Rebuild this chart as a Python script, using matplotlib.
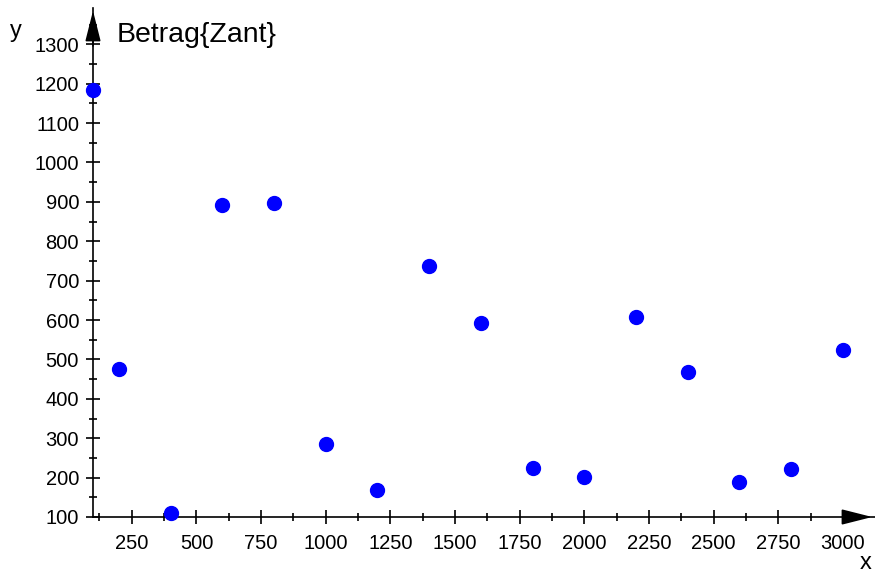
import matplotlib.pyplot as plt
from matplotlib.ticker import MultipleLocator

plt.rcParams['font.family'] = ['Liberation Sans', 'DejaVu Sans']

# data
x_vals = [100, 200, 400, 600, 800, 1000, 1200, 1400, 1600, 1800,
          2000, 2200, 2400, 2600, 2800, 3000]
y_vals = [1184, 476, 111, 893, 897, 286, 168, 737, 592, 224,
          201, 608, 467, 188, 222, 523]
x_ticks = [250, 500, 750, 1000, 1250, 1500, 1750, 2000, 2250, 2500, 2750, 3000]
y_ticks = [100, 200, 300, 400, 500, 600, 700, 800, 900, 1000, 1100, 1200, 1300]

fig = plt.figure(figsize=(8.75, 5.74), dpi=100)
ax = fig.add_axes([93 / 875, (574 - 517) / 574, (875 - 93) / 875, (517 - 8) / 574])

ax.set_xlim(100, 3124)
ax.set_ylim(111, 1392)

for s in ['top', 'right']:
    ax.spines[s].set_visible(False)
for s in ['left', 'bottom']:
    ax.spines[s].set_linewidth(1.2)

ax.set_xticks(x_ticks)
ax.set_yticks(y_ticks)
ax.xaxis.set_minor_locator(MultipleLocator(125))
ax.yaxis.set_minor_locator(MultipleLocator(50))
ax.tick_params(which='major', direction='inout', length=10, width=1.2,
               labelsize=14.5, pad=5)
ax.tick_params(axis='x', which='major', pad=7)
ax.tick_params(which='minor', direction='inout', length=5.5, width=1.2)

# arrow heads at the axis ends
head = '-|>,head_length=1.9,head_width=0.48'
ax.annotate('', xy=(1.0, 0), xytext=(0.96, 0), xycoords='axes fraction',
            arrowprops=dict(arrowstyle=head, color='black', lw=1.2,
                            mutation_scale=10), annotation_clip=False)
ax.annotate('', xy=(0, 1.0), xytext=(0, 0.92), xycoords='axes fraction',
            arrowprops=dict(arrowstyle=head, color='black', lw=1.2,
                            mutation_scale=10), annotation_clip=False)

ax.plot(x_vals, y_vals, 'o', color='#0000ff', markersize=10, clip_on=False,
        zorder=5)

fig.text(866 / 875, 1 - 563 / 574, 'x', fontsize=17, ha='center', va='center')
fig.text(16 / 875, 1 - 31 / 574, 'y', fontsize=17, ha='center', va='center')
fig.text(117 / 875, 1 - 35 / 574, 'Betrag{Zant}', fontsize=20.5, ha='left',
         va='center')

fig.savefig('out.png', dpi=100)
